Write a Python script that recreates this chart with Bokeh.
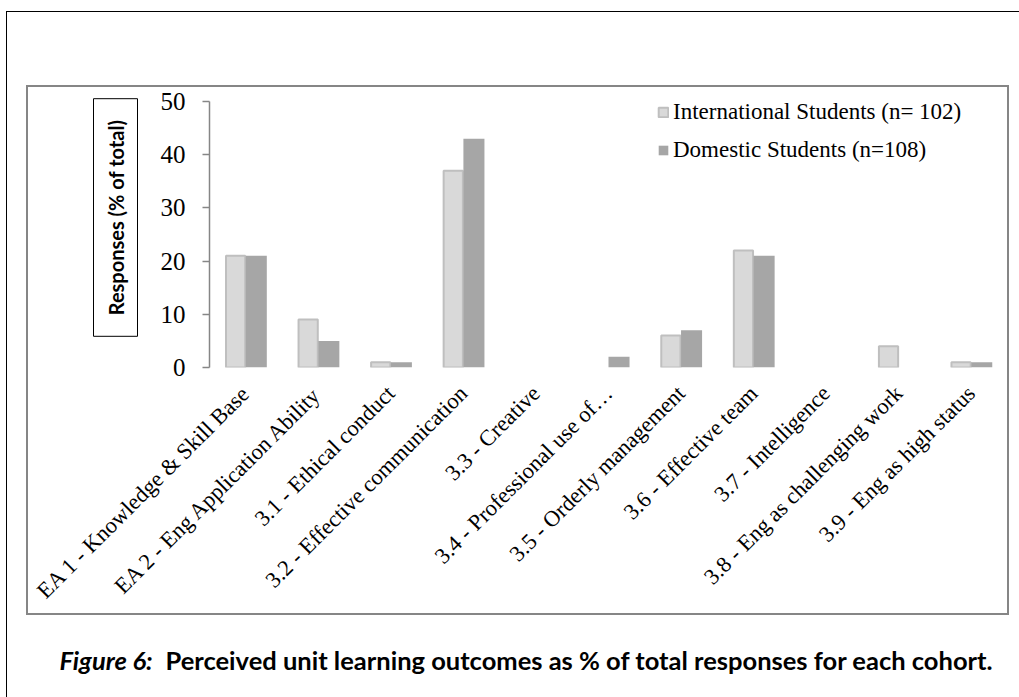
from math import pi

from bokeh.embed import file_html
from bokeh.models import (BooleanFilter, CDSView, ColumnDataSource, FactorRange,
                          FixedTicker, InlineStyleSheet, Label)
from bokeh.plotting import figure
from bokeh.resources import INLINE
from bokeh.transform import dodge

# ---- data -------------------------------------------------------------
categories = [
    "EA 1 - Knowledge & Skill Base",
    "EA 2 - Eng Application Ability",
    "3.1 - Ethical conduct",
    "3.2 - Effective communication",
    "3.3 - Creative",
    "3.4 - Professional use of…",
    "3.5 - Orderly management",
    "3.6 - Effective team",
    "3.7 - Intelligence",
    "3.8 - Eng as challenging work",
    "3.9 - Eng as high status",
]
international = [21, 9, 1, 37, 0, 0, 6, 22, 0, 4, 1]
domestic = [21, 5, 1, 43, 0, 2, 7, 21, 0, 0, 1]
y_ticks = [0, 10, 20, 30, 40, 50]
series_labels = ["International Students (n= 102)", "Domestic Students (n=108)"]
y_title = "Responses (% of total)"
caption_lead = "Figure 6:"
caption_text = "Perceived unit learning outcomes as % of total responses for each cohort."

# ---- styling ----------------------------------------------------------
SERIF = "Liberation Serif"
SANS = "Lato"
INTL_FILL, INTL_LINE = "#d9d9d9", "#bfbfbf"
DOM_FILL = "#a6a6a6"
AXIS_GREY = "#868686"

source = ColumnDataSource(dict(cat=categories, intl=international, dom=domestic))

# the y range runs a little past 50 so the legend has head room;
# the axis itself is bounded at 0..50
p = figure(
    width=1019, height=697,
    x_range=FactorRange(*categories), y_range=(0, 53),
    min_border_left=209, min_border_right=12,
    min_border_top=85, min_border_bottom=330,
    toolbar_location=None, output_backend="svg",
    background_fill_color="white", border_fill_color="white",
    outline_line_color=None,
)

# bars (empty categories are left out so no outline is drawn at zero)
intl_view = CDSView(filter=BooleanFilter([v > 0 for v in international]))
dom_view = CDSView(filter=BooleanFilter([v > 0 for v in domestic]))

p.vbar(x=dodge("cat", -0.14, range=p.x_range), top="intl", width=0.265,
       source=source, view=intl_view,
       fill_color=INTL_FILL, line_color=INTL_LINE, line_width=2,
       legend_label=series_labels[0])
p.vbar(x=dodge("cat", 0.145, range=p.x_range), top="dom", width=0.29,
       source=source, view=dom_view,
       fill_color=DOM_FILL, line_color=None,
       legend_label=series_labels[1])

# ---- axes -------------------------------------------------------------
p.xgrid.grid_line_color = None
p.ygrid.grid_line_color = None

yax = p.yaxis[0]
yax.ticker = FixedTicker(ticks=y_ticks)
yax.bounds = (y_ticks[0], y_ticks[-1])
yax.axis_line_color = AXIS_GREY
yax.axis_line_width = 1.5
yax.major_tick_line_color = AXIS_GREY
yax.major_tick_line_width = 1.5
yax.major_tick_out = 7
yax.major_tick_in = 0
yax.minor_tick_line_color = None
yax.major_label_text_font = SERIF
yax.major_label_text_font_size = "25px"
yax.major_label_text_color = "black"
yax.major_label_standoff = 17

xax = p.xaxis[0]
xax.axis_line_color = None
xax.major_tick_line_color = None
xax.major_tick_out = 0
xax.major_label_orientation = pi / 4
xax.major_label_text_font = SERIF
xax.major_label_text_font_size = "22.5px"
xax.major_label_text_color = "black"
xax.major_label_standoff = 22

# ---- legend -----------------------------------------------------------
leg = p.legend[0]
leg.location = (448, 202)
leg.padding = 0
leg.margin = 0
leg.spacing = 8
leg.glyph_width = 12
leg.glyph_height = 12
leg.label_height = 30
leg.label_standoff = 4
leg.label_text_font = SERIF
leg.label_text_font_size = "23px"
leg.label_text_color = "black"
leg.border_line_color = None
leg.background_fill_alpha = 0

# ---- boxed axis title and caption (placed in canvas pixels) -------------
p.add_layout(Label(x=115, y=217, x_units="canvas", y_units="canvas",
                   text=y_title, angle=pi / 2, text_align="center",
                   text_baseline="middle", text_font=SANS,
                   text_font_style="bold", text_font_size="20px",
                   text_color="black",
                   border_line_color="black", border_line_width=1,
                   padding=dict(left=21, right=21, top=10, bottom=10)),
             "left")
p.add_layout(Label(x=59, y=659, x_units="canvas", y_units="canvas",
                   text=caption_lead, text_align="left",
                   text_baseline="alphabetic", text_font=SANS,
                   text_font_style="bold italic", text_font_size="25.5px",
                   text_color="black"), "below")
p.add_layout(Label(x=165, y=659, x_units="canvas", y_units="canvas",
                   text=caption_text, text_align="left",
                   text_baseline="alphabetic", text_font=SANS,
                   text_font_style="bold", text_font_size="25.5px",
                   text_color="black"), "below")

# ---- page frame lines: outer black rule and grey chart box ---------------
p.stylesheets = [InlineStyleSheet(css="""
:host { position: relative; }
:host::before {
  content: ""; position: absolute; box-sizing: border-box;
  left: 6px; top: 11px; width: 1013px; height: 686px;
  border-left: 1.5px solid black; border-top: 1.5px solid black;
  z-index: 20; pointer-events: none;
}
:host::after {
  content: ""; position: absolute; box-sizing: border-box;
  left: 26px; top: 85px; width: 983px; height: 530px;
  border: 2px solid #868686;
  z-index: 20; pointer-events: none;
}
""")]

open("out.html", "w").write(file_html(p, INLINE))
